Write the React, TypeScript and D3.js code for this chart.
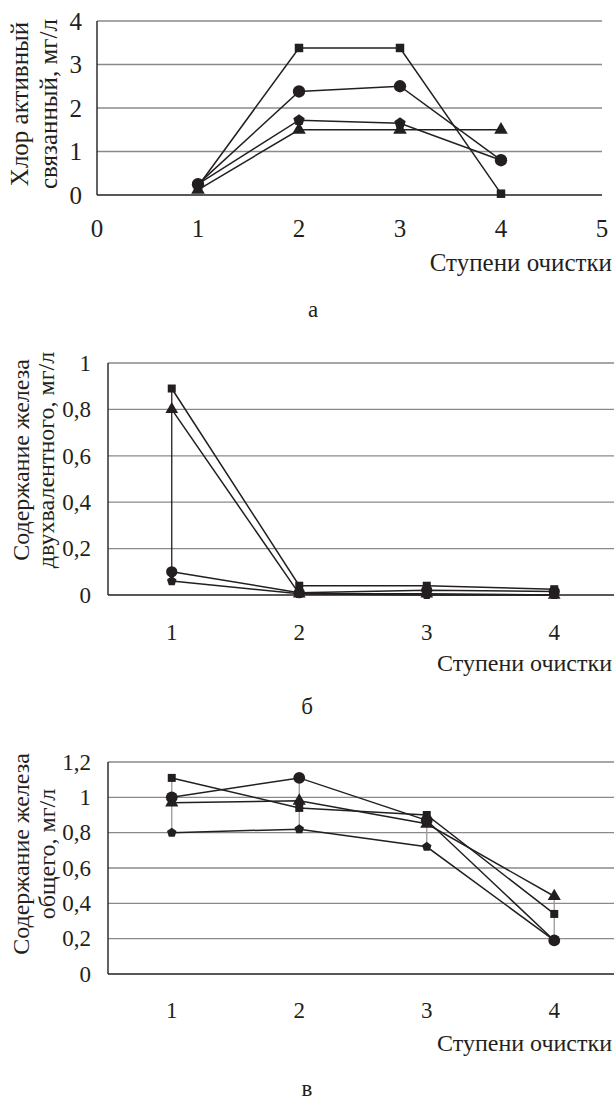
import React from 'react';
import * as d3 from 'd3';

// а — Хлор активный связанный
const chlorX = [1, 2, 3, 4];
const chlorSquare = [0.2, 3.38, 3.38, 0.03];
const chlorCircle = [0.25, 2.38, 2.5, 0.8];
const chlorPentagon = [0.25, 1.72, 1.65, 0.8];
const chlorTriangle = [0.12, 1.5, 1.5, 1.5];
const chlorXTicks = [0, 1, 2, 3, 4, 5];
const chlorYTicks = [0, 1, 2, 3, 4];

// б — железо двухвалентное
const stages = [1, 2, 3, 4];
const fe2Square = [0.89, 0.04, 0.04, 0.025];
const fe2Triangle = [0.8, 0.005, 0.005, 0.0];
const fe2Circle = [0.1, 0.01, 0.02, 0.015];
const fe2Pentagon = [0.06, 0.005, 0, 0];
const fe2YTicks = [0, 0.2, 0.4, 0.6, 0.8, 1];

// в — железо общее
const feSquare = [1.11, 0.94, 0.9, 0.34];
const feCircle = [1.0, 1.11, 0.87, 0.19];
const feTriangle = [0.97, 0.98, 0.85, 0.44];
const fePentagon = [0.8, 0.82, 0.72, 0.19];
const feYTicks = [0, 0.2, 0.4, 0.6, 0.8, 1, 1.2];

const xTitle = 'Ступени очистки';
const FONT = "'Liberation Serif'";
const INK = '#231f20';
const GRID = '#8a8a8a';

const fmt = (d) => String(d).replace('.', ',');

// regular pentagon pointing up
const pentagon = (r) => {
  const p = d3.path();
  for (let k = 0; k < 5; k++) {
    const a = -Math.PI / 2 + (k * 2 * Math.PI) / 5;
    if (k === 0) p.moveTo(r * Math.cos(a), r * Math.sin(a));
    else p.lineTo(r * Math.cos(a), r * Math.sin(a));
  }
  p.closePath();
  return p.toString();
};

const markerPath = (kind, s) => {
  if (kind === 'square') return d3.symbol(d3.symbolSquare, s.square)();
  if (kind === 'circle') return d3.symbol(d3.symbolCircle, s.circle)();
  if (kind === 'triangle') return d3.symbol(d3.symbolTriangle, s.triangle)();
  return pentagon(s.pentagon);
};

const Txt = ({ size, children, ...rest }) => (
  <text {...rest} fill={INK} style={{ fontFamily: FONT, fontSize: size }}>{children}</text>
);

const Panel = (o) => {
  const { x, y } = o;
  const top = o.yTicks[o.yTicks.length - 1];
  const line = d3.line().x((d) => x(d[0])).y((d) => y(d[1]));
  return (
    <g>
      {o.yTicks.filter((d) => d !== 0).map((d) => (
        <line key={'g' + d} x1={o.left} x2={o.right} y1={y(d)} y2={y(d)} stroke={GRID} strokeWidth={1.3} />
      ))}
      <line x1={o.left} x2={o.right} y1={y(0)} y2={y(0)} stroke={INK} strokeWidth={1.6} />
      <line x1={o.left} x2={o.left} y1={y(top)} y2={y(0)} stroke={INK} strokeWidth={1.4} />

      {o.yTicks.map((d) => (
        <Txt key={'y' + d} size={o.tickSize} x={o.yLabelX} y={y(d) + o.tickSize * 0.34} textAnchor="end">{fmt(d)}</Txt>
      ))}
      {o.xTicks.map((d) => (
        <Txt key={'x' + d} size={o.tickSize} x={x(d)} y={o.xLabelY} textAnchor="middle">{fmt(d)}</Txt>
      ))}

      <Txt size={o.titleSize} x={612} y={o.xTitleY} textAnchor="end">{xTitle}</Txt>
      {o.yTitle.map((t, i) => (
        <Txt key={t} size={o.titleSize} textAnchor="middle"
          transform={`translate(${o.yTitleX[i]}, ${o.yTitleCY}) rotate(-90)`}>{t}</Txt>
      ))}
      <Txt size={23} x={o.letterX} y={o.letterY} textAnchor="middle">{o.letter}</Txt>

      {o.hiLo && o.xs.map((xv, i) => {
        const vals = o.series.map((s) => s.values[i]);
        return (
          <line key={'hl' + i} x1={x(xv)} x2={x(xv)} y1={y(d3.min(vals))} y2={y(d3.max(vals))}
            stroke={o.hiLo} strokeWidth={1.3} />
        );
      })}

      {o.series.map((s, si) => {
        const pts = o.xs.map((xv, i) => [xv, s.values[i]]);
        return (
          <g key={'s' + si}>
            <path d={line(pts)} fill="none" stroke={INK} strokeWidth={1.5} />
            {pts.map((d, i) => (
              <path key={i} transform={`translate(${x(d[0])}, ${y(d[1])})`}
                d={markerPath(s.marker, o.markerSize)} fill={INK} />
            ))}
          </g>
        );
      })}
    </g>
  );
};

const App = () => {
  const catX = d3.scalePoint().domain(stages).range([108, 618]).padding(0.5);
  return (
    <svg width={614} height={1102} style={{ position: 'absolute', left: 0, top: 0, background: '#fff' }}>
      <Panel
        x={d3.scaleLinear().domain([0, 5]).range([97, 602])}
        y={d3.scaleLinear().domain([0, 4]).range([195, 21])}
        left={97} right={602}
        xs={chlorX} xTicks={chlorXTicks} yTicks={chlorYTicks}
        yLabelX={82} xLabelY={237} xTitleY={271}
        tickSize={25} titleSize={25}
        yTitle={['Хлор активный', 'связанный, мг/л']}
        yTitleX={[28, 57]} yTitleCY={104}
        letter="а" letterX={313} letterY={317}
        markerSize={{ square: 72, circle: 120, triangle: 80, pentagon: 6 }}
        hiLo={null}
        series={[
          { values: chlorSquare, marker: 'square' },
          { values: chlorCircle, marker: 'circle' },
          { values: chlorPentagon, marker: 'pentagon' },
          { values: chlorTriangle, marker: 'triangle' },
        ]}
      />
      <Panel
        x={catX}
        y={d3.scaleLinear().domain([0, 1]).range([595, 363])}
        left={108} right={614}
        xs={stages} xTicks={stages} yTicks={fe2YTicks}
        yLabelX={91} xLabelY={640} xTitleY={671}
        tickSize={23} titleSize={24}
        yTitle={['Содержание железа', 'двухвалентного, мг/л']}
        yTitleX={[29, 54]} yTitleCY={460}
        letter="б" letterX={307} letterY={714}
        markerSize={{ square: 64, circle: 100, triangle: 70, pentagon: 5 }}
        hiLo={INK}
        series={[
          { values: fe2Square, marker: 'square' },
          { values: fe2Triangle, marker: 'triangle' },
          { values: fe2Circle, marker: 'circle' },
          { values: fe2Pentagon, marker: 'pentagon' },
        ]}
      />
      <Panel
        x={catX}
        y={d3.scaleLinear().domain([0, 1.2]).range([974, 762])}
        left={108} right={614}
        xs={stages} xTicks={stages} yTicks={feYTicks}
        yLabelX={91} xLabelY={1018} xTitleY={1051}
        tickSize={23} titleSize={24}
        yTitle={['Содержание железа', 'общего, мг/л']}
        yTitleX={[29, 55]} yTitleCY={854}
        letter="в" letterX={307} letterY={1096}
        markerSize={{ square: 64, circle: 110, triangle: 75, pentagon: 5 }}
        hiLo="#9a9a9a"
        series={[
          { values: feSquare, marker: 'square' },
          { values: feCircle, marker: 'circle' },
          { values: feTriangle, marker: 'triangle' },
          { values: fePentagon, marker: 'pentagon' },
        ]}
      />
    </svg>
  );
};

export default App;
